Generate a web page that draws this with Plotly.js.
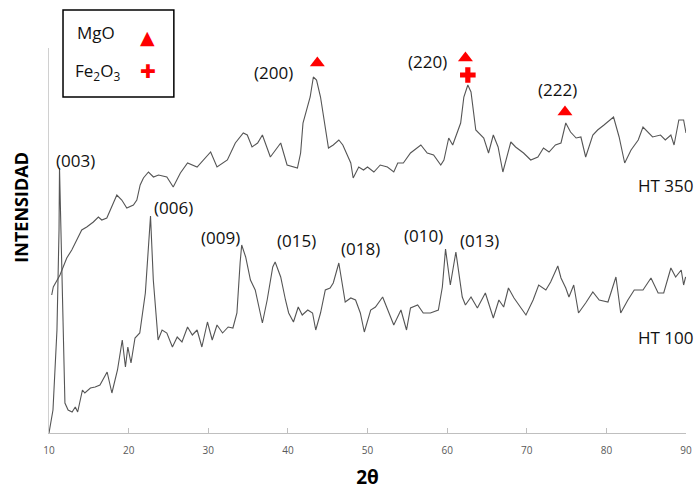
<!DOCTYPE html>
<html>
<head>
<meta charset="utf-8">
<script src="https://cdn.plot.ly/plotly-3.0.1.min.js"></script>
<style>html,body{margin:0;padding:0;background:#fff;}#chart{width:695px;height:491px;}</style>
</head>
<body>
<div id="chart"></div>
<script>
// HT 100 pattern (2θ, intensity a.u.)
const ht100_x = [10.0,10.5,11.0,11.26,11.32,11.6,12.0,12.4,12.9,13.3,13.6,14.2,14.5,15.2,15.8,16.4,17.3,17.9,18.6,19.2,19.6,19.9,20.3,20.8,21.4,22.1,22.5,22.75,23.1,23.7,24.2,24.8,25.5,26.1,26.7,27.4,28.0,28.6,29.2,29.9,30.5,31.1,31.8,32.5,33.1,33.6,34.0,34.2,34.7,35.3,35.9,36.8,37.4,38.1,38.4,39.1,39.7,40.1,40.7,41.3,41.8,42.5,43.1,43.5,44.1,44.7,45.3,45.7,46.4,46.9,47.2,47.9,48.5,49.1,49.6,50.4,51.0,51.9,52.6,53.3,54.2,54.9,55.4,56.3,57.0,57.9,58.9,59.4,59.8,60.4,61.1,61.9,62.3,63.0,63.8,64.8,65.8,66.5,67.1,67.7,68.4,69.0,69.9,70.8,71.5,72.4,73.0,73.9,74.3,74.9,75.3,75.9,76.5,77.4,78.3,79.1,80.2,80.8,81.2,81.8,82.7,83.5,84.6,85.6,86.5,87.2,88.1,88.7,89.4,89.7,89.95];
const ht100_y = [0,23,103,203,265,170,30,23,21,26,21,43,40,45,46,48,61,40,63,93,66,86,70,95,100,140,183,217,153,93,103,100,86,96,91,106,98,103,86,111,93,108,100,106,105,120,170,188,176,153,143,110,133,166,171,156,133,120,111,126,118,123,120,103,120,143,145,150,170,146,131,135,133,120,101,123,126,136,121,108,123,103,125,128,120,120,123,146,184,148,181,136,128,136,125,140,115,133,126,145,135,128,118,133,148,143,151,167,155,145,136,148,120,130,141,133,131,146,156,120,133,143,143,155,140,140,165,156,163,148,156];

// HT 350 pattern (2θ, intensity a.u.)
const ht350_x = [10.34,10.54,11.38,12.23,12.86,13.48,14.11,14.74,15.57,16.2,16.63,17.26,17.89,18.52,19.14,19.77,20.6,21.03,21.45,21.86,22.49,23.12,23.75,24.8,25.6,26.5,27.4,28.6,30.3,31.1,32.4,33.4,34.4,34.9,35.5,36.2,36.8,37.2,37.8,39.1,39.9,41.2,41.6,41.9,42.8,43.2,43.6,44.1,44.7,45.1,45.7,46.4,46.9,47.5,47.9,48.2,48.9,49.5,50.0,50.8,51.6,52.5,53.3,53.8,54.5,55.4,56.7,57.5,58.3,59.2,59.6,60.2,60.7,61.7,62.1,62.6,63.0,63.6,64.2,64.6,65.2,65.8,66.4,67.0,68.0,68.6,69.6,70.5,71.4,72.1,72.8,73.6,74.3,74.9,75.5,76.2,76.8,77.4,78.3,78.9,79.7,80.9,81.6,82.3,83.1,84.0,84.6,85.2,85.8,86.8,87.4,88.1,88.5,89.1,89.7,90.0];
const ht350_y = [138,146,158,175,183,193,203,206,211,216,213,215,226,238,233,225,228,233,248,255,261,256,258,256,246,260,270,266,281,266,273,290,300,298,286,290,298,290,276,290,268,265,280,310,336,356,353,336,303,285,288,293,288,276,270,255,266,263,266,261,268,266,261,270,270,280,288,280,278,268,273,295,288,310,336,348,341,303,298,295,280,298,286,261,291,286,280,273,276,285,281,288,290,310,301,295,296,276,298,303,308,316,296,270,283,293,306,301,296,298,293,298,288,313,313,300];

// Peak labels
const labels_text = ["(003)","(006)","(009)","(015)","(018)","(010)","(013)","(200)","(220)","(222)","HT 350","HT 100"];
const labels_x = [13.27,25.6,31.5,41.07,49.1,57.0,64.1,38.2,57.55,73.8,87.4,87.4];
const labels_y = [273,226,196,193,185,198,193,361,372,344,248,96];

// Phase markers
const mgo_x = [43.7,62.3,74.8];
const mgo_y = [370,375,321];
const fe_x = [62.6];
const fe_y = [358];

const xTicks = [10,20,30,40,50,60,70,80,90];

const lineStyle = {color:'#555555', width:1.1};
const traces = [
  {x:ht100_x, y:ht100_y, type:'scatter', mode:'lines', line:lineStyle, name:'HT 100', hoverinfo:'skip'},
  {x:ht350_x, y:ht350_y, type:'scatter', mode:'lines', line:lineStyle, name:'HT 350', hoverinfo:'skip'},
  {x:mgo_x, y:mgo_y, type:'scatter', mode:'markers', marker:{symbol:'triangle-up', size:13, color:'#ff0000'}, name:'MgO'},
  {x:fe_x, y:fe_y, type:'scatter', mode:'markers', marker:{symbol:'cross', size:13, color:'#ff0000'}, name:'Fe2O3'}
];

const labelFont = {family:'Open Sans, sans-serif', size:17, color:'#111111'};
const annotations = labels_text.map((t,i)=>({
  text:t, x:labels_x[i], y:labels_y[i], xref:'x', yref:'y', showarrow:false, font:labelFont,
  xanchor:'center', yanchor:'middle'
}));

// Legend box contents (paper coords)
annotations.push({text:'MgO', x:0.0738, y:1.039, xref:'paper', yref:'paper', showarrow:false, font:labelFont, xanchor:'center', yanchor:'middle'});
annotations.push({text:'Fe<sub>2</sub>O<sub>3</sub>', x:0.0754, y:0.9377, xref:'paper', yref:'paper', showarrow:false, font:labelFont, xanchor:'center', yanchor:'middle'});
annotations.push({text:'▲', x:0.1554, y:1.028, xref:'paper', yref:'paper', showarrow:false, font:{family:'DejaVu Sans', size:19, color:'#ff0000'}, xanchor:'center', yanchor:'middle'});
annotations.push({text:'✚', x:0.1554, y:0.940, xref:'paper', yref:'paper', showarrow:false, font:{family:'DejaVu Sans', size:19, color:'#ff0000'}, xanchor:'center', yanchor:'middle'});

// Axis titles
annotations.push({text:'<b>INTENSIDAD</b>', x:-0.0435, y:0.586, xref:'paper', yref:'paper', showarrow:false, textangle:-90,
  font:{family:'Open Sans, sans-serif', size:18, color:'#000'}, xanchor:'center', yanchor:'middle'});

const layout = {
  width:695, height:491,
  margin:{l:49, r:9, t:48, b:58},
  paper_bgcolor:'#ffffff', plot_bgcolor:'#ffffff',
  showlegend:false,
  xaxis:{range:[10,90], tickvals:xTicks, ticktext:xTicks.map(String), showgrid:false, zeroline:false,
    showline:true, linecolor:'#bfbfbf', linewidth:1, ticks:'inside', ticklen:5, tickcolor:'#bfbfbf',
    tickfont:{family:'Open Sans, sans-serif', size:10, color:'#595959'}, ticklabelstandoff:8,
    title:{text:'<b>2θ</b>', font:{family:'Open Sans, sans-serif', size:19, color:'#000'}, standoff:14}},
  yaxis:{range:[0,385], showgrid:false, zeroline:false, showticklabels:false, ticks:'',
    showline:true, linecolor:'#d0d0d0', linewidth:1},
  shapes:[{type:'rect', xref:'paper', yref:'paper', x0:0.022, x1:0.196, y0:0.873, y1:1.099,
    line:{color:'#000', width:1.5}, fillcolor:'rgba(0,0,0,0)'}],
  annotations:annotations
};

Plotly.newPlot('chart', traces, layout, {displayModeBar:false, staticPlot:true});
</script>
</body>
</html>
